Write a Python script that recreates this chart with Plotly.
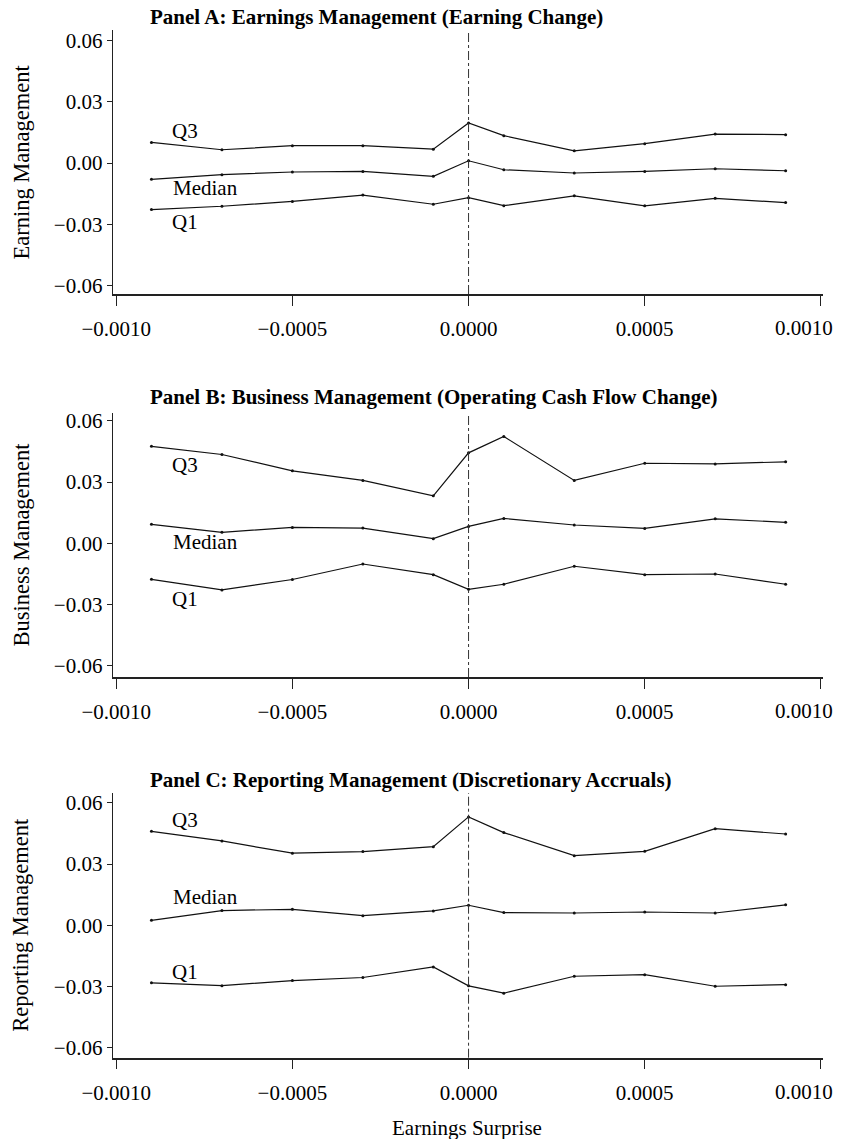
import plotly.graph_objects as go

# page is 845x1147; the browser's default 8px body margin offsets the figure,
# so the figure is made smaller to keep the page free of scrolling
PAGE_W, PAGE_H = 845, 1147
OFF = 8
W, H = PAGE_W - OFF, PAGE_H - 2 * OFF

surprise = [-0.0009, -0.0007, -0.0005, -0.0003, -0.0001, 0.0, 0.0001, 0.0003, 0.0005, 0.0007, 0.0009]

a_q3 = [0.0101, 0.0065, 0.0085, 0.0085, 0.0068, 0.0196, 0.0134, 0.0060, 0.0095, 0.0142, 0.0139]
a_med = [-0.0080, -0.0057, -0.0044, -0.0041, -0.0065, 0.0011, -0.0033, -0.0049, -0.0041, -0.0028, -0.0038]
a_q1 = [-0.0228, -0.0212, -0.0188, -0.0157, -0.0202, -0.0170, -0.0209, -0.0161, -0.0210, -0.0173, -0.0194]

b_q3 = [0.0475, 0.0435, 0.0355, 0.0308, 0.0233, 0.0443, 0.0523, 0.0308, 0.0392, 0.0389, 0.0399]
b_med = [0.0093, 0.0054, 0.0078, 0.0075, 0.0023, 0.0083, 0.0122, 0.0090, 0.0073, 0.0120, 0.0103]
b_q1 = [-0.0176, -0.0228, -0.0177, -0.0101, -0.0153, -0.0225, -0.0200, -0.0112, -0.0153, -0.0150, -0.0200]

c_q3 = [0.0460, 0.0413, 0.0353, 0.0361, 0.0385, 0.0531, 0.0454, 0.0341, 0.0362, 0.0473, 0.0447]
c_med = [0.0024, 0.0072, 0.0078, 0.0047, 0.0070, 0.0098, 0.0062, 0.0060, 0.0065, 0.0060, 0.0100]
c_q1 = [-0.0282, -0.0296, -0.0271, -0.0256, -0.0204, -0.0297, -0.0333, -0.0250, -0.0242, -0.0299, -0.0291]

panel_titles = [
    "Panel A: Earnings Management (Earning Change)",
    "Panel B: Business Management (Operating Cash Flow Change)",
    "Panel C: Reporting Management (Discretionary Accruals)",
]
y_titles = ["Earning Management", "Business Management", "Reporting Management"]
x_title = "Earnings Surprise"
series_names = ["Q3", "Median", "Q1"]

x_ticks = [-0.0010, -0.0005, 0.0, 0.0005, 0.0010]
x_tick_labels = ["\u22120.0010", "\u22120.0005", "0.0000", "0.0005", "0.0010"]
y_ticks = [-0.06, -0.03, 0.0, 0.03, 0.06]

# label positions (data coords) per panel: (x, y) for Q3, Median, Q1
label_pos = [
    [(-0.000804, 0.0155), (-0.000748, -0.0122), (-0.000804, -0.0290)],
    [(-0.000804, 0.0383), (-0.000746, 0.0008), (-0.000804, -0.0272)],
    [(-0.000804, 0.0514), (-0.000748, 0.0139), (-0.000804, -0.0229)],
]

panels = [(a_q3, a_med, a_q1), (b_q3, b_med, b_q1), (c_q3, c_med, c_q1)]


def px_x(p):
    return (p - OFF) / W


def px_y(p):
    return 1 - (p - OFF) / H


# pixel geometry (page pixels) of each panel: (top, bottom) of plot area and y-range
pix = [(30, 294), (413, 677), (793, 1057.7)]
yranges = [(-0.0642, 0.0652), (-0.0654, 0.0638), (-0.0649, 0.0648)]
title_y = [17, 397, 780]
x_left, x_right = 112.7, 823
xrange_ = (-0.00101, 0.001006)

SERIF = "Liberation Serif, Times New Roman, serif"
TICK_FONT = dict(family=SERIF, size=21, color="black")

fig = go.Figure()
layout = dict(
    width=W, height=H,
    margin=dict(l=0, r=0, t=0, b=0, autoexpand=False),
    paper_bgcolor="white", plot_bgcolor="white",
    showlegend=False,
    font=dict(family=SERIF, color="black", size=20),
)
annotations = []
shapes = []

for i, (series, (top, bot), yr) in enumerate(zip(panels, pix, yranges)):
    n = "" if i == 0 else str(i + 1)
    xa, ya = "x" + n, "y" + n
    for vals in series:
        fig.add_trace(go.Scatter(
            x=surprise, y=vals, xaxis=xa, yaxis=ya, mode="lines+markers",
            line=dict(color="#111", width=1.2),
            marker=dict(size=3, color="#111"),
            hoverinfo="skip", cliponaxis=False,
        ))
    # last tick label is drawn separately (pulled inside the page edge)
    layout["xaxis" + n] = dict(
        domain=[px_x(x_left), px_x(x_right)], anchor=ya, range=list(xrange_),
        tickvals=x_ticks, ticktext=x_tick_labels[:-1] + [""],
        ticks="outside", ticklen=10,
        tickwidth=1.2, tickcolor="#222", showline=True, linecolor="#222",
        linewidth=1.5, showgrid=False, zeroline=False, automargin=False,
        ticklabelstandoff=5, tickfont=TICK_FONT,
    )
    annotations.append(dict(
        text=x_tick_labels[-1], xref=xa, yref=ya + " domain",
        x=x_ticks[-1], y=0, xanchor="right", yanchor="middle",
        xshift=14, yshift=-34, showarrow=False, font=TICK_FONT,
    ))
    layout["yaxis" + n] = dict(
        domain=[px_y(bot), px_y(top)], anchor=xa, range=list(yr),
        tickvals=y_ticks, tickformat=".2f", ticks="outside", ticklen=5,
        tickwidth=1, tickcolor="#222", showline=True, linecolor="#222",
        linewidth=1.2, showgrid=False, zeroline=False, automargin=False,
        tickfont=TICK_FONT,
    )
    # vertical reference line at zero
    shapes.append(dict(
        type="line", xref=xa, yref=ya + " domain", x0=0, x1=0, y0=0, y1=1,
        line=dict(color="#333", width=1, dash="dashdot"),
    ))
    # panel title
    annotations.append(dict(
        text="<b>" + panel_titles[i] + "</b>", xref="paper", yref="paper",
        x=px_x(148), y=px_y(title_y[i]), xanchor="left", yanchor="middle",
        showarrow=False, font=dict(family=SERIF, size=21, color="black"),
    ))
    # y-axis title
    annotations.append(dict(
        text=y_titles[i], xref="paper", yref="paper",
        x=px_x(20.5), y=px_y((top + bot) / 2), xanchor="center", yanchor="middle",
        textangle=-90, showarrow=False,
        font=dict(family=SERIF, size=22.5, color="black"),
    ))
    # series labels
    for name, (lx, ly) in zip(series_names, label_pos[i]):
        annotations.append(dict(
            text=name, xref=xa, yref=ya, x=lx, y=ly, xanchor="center",
            yanchor="middle", showarrow=False,
            font=dict(family=SERIF, size=21, color="black"),
        ))

annotations.append(dict(
    text=x_title, xref="paper", yref="paper", x=px_x(467), y=px_y(1128),
    xanchor="center", yanchor="middle", showarrow=False,
    font=dict(family=SERIF, size=21, color="black"),
))

layout["annotations"] = annotations
layout["shapes"] = shapes
fig.update_layout(**layout)
fig.write_html("out.html")
